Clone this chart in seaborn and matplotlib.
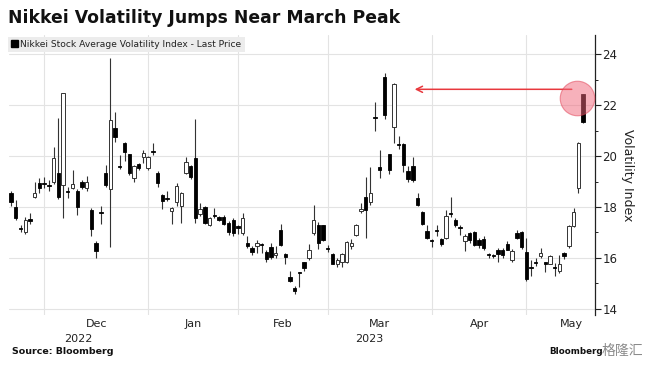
import numpy as np
import matplotlib
matplotlib.use("Agg")
import matplotlib.pyplot as plt
from matplotlib.patches import Patch
import seaborn as sns

# daily candles, Nov 21 2022 .. May 2023 (trading days only)
opens = [18.54, 18.02, 17.16, 17.00, 17.52, 18.38, 18.93, 18.93, 18.85, 18.97,
         19.32, 18.85, 18.65, 18.73, 18.65, 19.00, 18.73, 17.90, 16.60, 17.79,
         19.32, 18.69, 21.10, 19.60, 20.50, 20.07, 19.13, 19.68, 19.95, 19.52,
         20.19, 19.32, 18.46, 18.34, 17.83, 18.18, 18.06, 19.32, 19.60, 19.91,
         17.71, 18.02, 17.28, 17.67, 17.59, 17.59, 17.39, 17.51, 17.24, 16.96,
         16.57, 16.37, 16.45, 16.53, 16.25, 16.41, 16.13, 17.08, 16.17, 15.23,
         14.83, 15.43, 15.82, 15.98, 16.96, 17.31, 17.28, 16.37, 16.17, 15.78,
         15.82, 15.82, 16.45, 16.92, 17.83, 18.38, 18.18, 21.53, 19.56, 23.10,
         20.07, 21.13, 20.46, 20.46, 19.40, 19.60, 18.34, 17.79, 17.04, 16.72,
         17.08, 16.76, 16.80, 17.75, 17.51, 17.20, 16.65, 16.96, 17.00, 16.72,
         16.76, 16.17, 16.13, 16.33, 16.33, 16.53, 15.90, 16.96, 17.00, 16.25,
         15.62, 15.82, 16.06, 15.82, 15.78, 15.62, 15.50, 16.21, 16.45, 17.24,
         18.73, 22.43]
highs = [18.65, 18.26, 17.28, 17.60, 17.75, 18.97, 19.13, 19.17, 19.05, 20.35,
         21.49, 22.47, 18.77, 19.44, 18.70, 19.05, 19.24, 17.95, 16.65, 18.06,
         19.64, 23.85, 21.72, 20.03, 20.55, 20.10, 19.65, 19.72, 20.23, 20.00,
         20.50, 19.40, 18.50, 18.65, 18.00, 18.93, 18.60, 19.95, 19.65, 21.45,
         18.14, 18.05, 17.60, 17.98, 17.65, 17.70, 17.45, 17.55, 17.30, 17.75,
         16.85, 16.45, 16.70, 16.60, 16.30, 16.57, 16.45, 17.35, 16.20, 15.50,
         14.90, 15.45, 15.85, 16.55, 18.10, 17.40, 17.30, 16.50, 16.20, 16.00,
         16.20, 16.65, 16.75, 17.35, 18.15, 19.17, 19.56, 22.12, 20.23, 23.26,
         20.10, 22.87, 20.80, 20.50, 19.60, 19.95, 18.54, 17.85, 17.28, 16.75,
         17.28, 16.80, 17.90, 18.38, 17.55, 17.30, 16.95, 17.00, 17.05, 16.80,
         16.85, 16.20, 16.15, 16.40, 16.40, 16.65, 16.35, 17.10, 17.05, 16.80,
         15.90, 16.00, 16.37, 15.85, 16.10, 15.80, 16.10, 16.25, 17.30, 17.98,
         20.55, 22.45]
lows = [18.06, 17.50, 17.00, 16.95, 17.35, 18.35, 18.57, 18.73, 18.65, 18.90,
        18.30, 17.55, 18.34, 18.70, 17.70, 18.70, 18.65, 16.88, 16.00, 17.35,
        18.80, 16.41, 20.54, 19.50, 19.83, 19.25, 18.97, 19.45, 19.72, 19.45,
        20.03, 18.77, 17.94, 18.22, 17.35, 18.06, 17.39, 19.30, 19.10, 17.39,
        17.65, 17.35, 17.25, 17.55, 17.45, 17.30, 16.90, 16.85, 16.95, 16.90,
        16.37, 16.10, 16.20, 16.21, 15.85, 15.95, 16.00, 16.45, 15.78, 15.05,
        14.60, 14.87, 15.50, 15.90, 16.90, 16.35, 16.65, 16.25, 15.75, 15.65,
        15.65, 15.80, 16.35, 16.85, 17.75, 16.80, 18.10, 21.00, 19.13, 21.45,
        19.30, 20.50, 20.30, 19.36, 19.00, 19.00, 18.05, 17.30, 16.75, 16.41,
        16.88, 16.45, 16.75, 17.59, 17.20, 16.90, 16.29, 16.60, 16.45, 16.40,
        16.30, 16.00, 16.00, 15.85, 16.00, 16.30, 15.85, 16.75, 16.35, 15.10,
        15.30, 15.70, 16.00, 15.43, 15.75, 15.30, 15.40, 15.95, 16.40, 17.20,
        18.57, 21.30]
closes = [18.18, 17.55, 17.13, 17.51, 17.45, 18.54, 18.73, 18.90, 18.82, 19.91,
          18.38, 22.47, 18.60, 18.89, 18.02, 18.77, 18.97, 17.12, 16.29, 17.75,
          18.85, 21.41, 20.74, 19.57, 20.15, 19.32, 19.60, 19.52, 20.11, 19.95,
          20.17, 18.93, 18.22, 18.30, 17.98, 18.81, 18.57, 19.76, 19.17, 17.55,
          17.94, 17.39, 17.55, 17.63, 17.51, 17.35, 17.00, 16.96, 17.16, 17.55,
          16.45, 16.25, 16.57, 16.50, 15.94, 16.02, 16.21, 16.49, 16.02, 15.11,
          14.68, 15.40, 15.62, 16.33, 17.51, 16.57, 16.69, 16.35, 15.78, 15.90,
          16.17, 16.61, 16.57, 17.31, 17.94, 17.90, 18.57, 21.50, 19.44, 21.60,
          19.44, 22.83, 20.43, 19.64, 19.09, 19.05, 18.10, 17.35, 16.80, 16.65,
          17.05, 16.53, 17.63, 17.71, 17.28, 17.16, 16.88, 16.72, 16.49, 16.49,
          16.37, 16.10, 16.06, 16.17, 16.13, 16.33, 16.29, 16.80, 16.41, 15.19,
          15.60, 15.80, 16.21, 15.78, 16.06, 15.60, 15.78, 16.06, 17.24, 17.79,
          20.50, 21.33]

# first trading day of each month (candle index) and month names
month_starts = [7, 29, 48, 67, 89, 109]
month_ends = [29, 48, 67, 89, 109, 128]
month_names = ["Dec", "Jan", "Feb", "Mar", "Apr", "May"]
year_names = ["2022", "2023"]
year_pos = [14.2, 75.7]

o = np.array(opens)
h = np.array(highs)
l = np.array(lows)
c = np.array(closes)
x = np.arange(len(o))
up = c >= o

sns.set_theme(style="white")
plt.rcParams["font.family"] = ["DejaVu Sans"]

fig = plt.figure(figsize=(6.48, 3.66), dpi=100)
ax = fig.add_axes([0.014, 0.139, 0.904, 0.765])

# grid
for v in range(14, 25, 2):
    ax.axhline(v, color="#e3e3e3", lw=0.8, zorder=0)
for m in month_starts:
    ax.axvline(m, color="#e3e3e3", lw=0.8, zorder=0)

# candles
w = 0.72
ax.vlines(x, l, h, color="#333333", lw=0.8, zorder=2)
body_lo = np.minimum(o, c)
body_h = np.maximum(np.abs(c - o), 0.03)
ax.bar(x[~up], body_h[~up], bottom=body_lo[~up], width=w, color="black",
       edgecolor="black", lw=0.6, zorder=3)
ax.bar(x[up], body_h[up], bottom=body_lo[up], width=w, color="white",
       edgecolor="#333333", lw=0.7, zorder=3)

ax.set_xlim(-0.42, 123.5)
ax.set_ylim(13.75, 24.76)

# axes styling
for s in ["top", "left", "bottom"]:
    ax.spines[s].set_visible(False)
ax.spines["right"].set_color("#222222")
ax.spines["right"].set_linewidth(0.9)
ax.yaxis.tick_right()
ax.yaxis.set_label_position("right")
ax.set_yticks(range(14, 25, 2))
ax.set_yticks(range(15, 25, 2), minor=True)
ax.tick_params(axis="y", which="major", direction="out", length=4, width=0.8,
               colors="#222222", labelsize=8.5, pad=1.5, right=True)
ax.tick_params(axis="y", which="minor", direction="out", length=2.5, width=0.7,
               colors="#222222", right=True)
ax.set_ylabel("Volatility Index", rotation=270, labelpad=12, fontsize=9,
              color="#222222")

mids = [(a + b) / 2 for a, b in zip(month_starts, month_ends)]
ax.set_xticks(mids)
ax.set_xticklabels(month_names)
ax.tick_params(axis="x", length=0, labelsize=8, colors="#222222", pad=3)
for yr, xp in zip(year_names, year_pos):
    ax.text(xp, -0.068, yr, transform=ax.get_xaxis_transform(), ha="center",
            va="top", fontsize=8, color="#222222")

# legend box
leg = ax.legend(handles=[Patch(facecolor="black", edgecolor="black")],
                labels=["Nikkei Stock Average Volatility Index - Last Price"],
                loc="upper left", bbox_to_anchor=(-0.002, 0.995), fontsize=6.6,
                handlelength=0.7, handleheight=0.7, handletextpad=0.3,
                borderpad=0.35, frameon=True, fancybox=False, framealpha=1,
                facecolor="#ececec", edgecolor="none", borderaxespad=0)
for t in leg.get_texts():
    t.set_color("#222222")

# annotation: arrow back to March peak and highlight circle
last = len(o) - 1
ax.annotate("", xy=(84.8, 22.63), xytext=(last - 1.8, 22.63),
            arrowprops=dict(arrowstyle="->", color="#e8383d", lw=1.1,
                            mutation_scale=11), zorder=5)
ax.scatter([last - 1.3], [h[last] - 0.17], s=620, color="#f06478", alpha=0.5,
           edgecolor="#e03a4e", linewidth=0.8, zorder=6)

fig.text(0.012, 0.975, "Nikkei Volatility Jumps Near March Peak",
         fontsize=12.4, fontweight="bold", va="top", ha="left", color="#111111")
fig.text(0.018, 0.04, "Source: Bloomberg", fontsize=6.8, fontweight="bold",
         va="center", ha="left", color="#111111")
fig.text(0.848, 0.04, "Bloomberg", fontsize=6.3, fontweight="bold",
         va="center", ha="left", color="#111111")
fig.text(0.928, 0.04, "格隆汇", fontsize=10, va="center", ha="left",
         color="#777777", alpha=0.85, family=["Noto Sans CJK SC", "DejaVu Sans"])

fig.savefig("out.png", dpi=100)
